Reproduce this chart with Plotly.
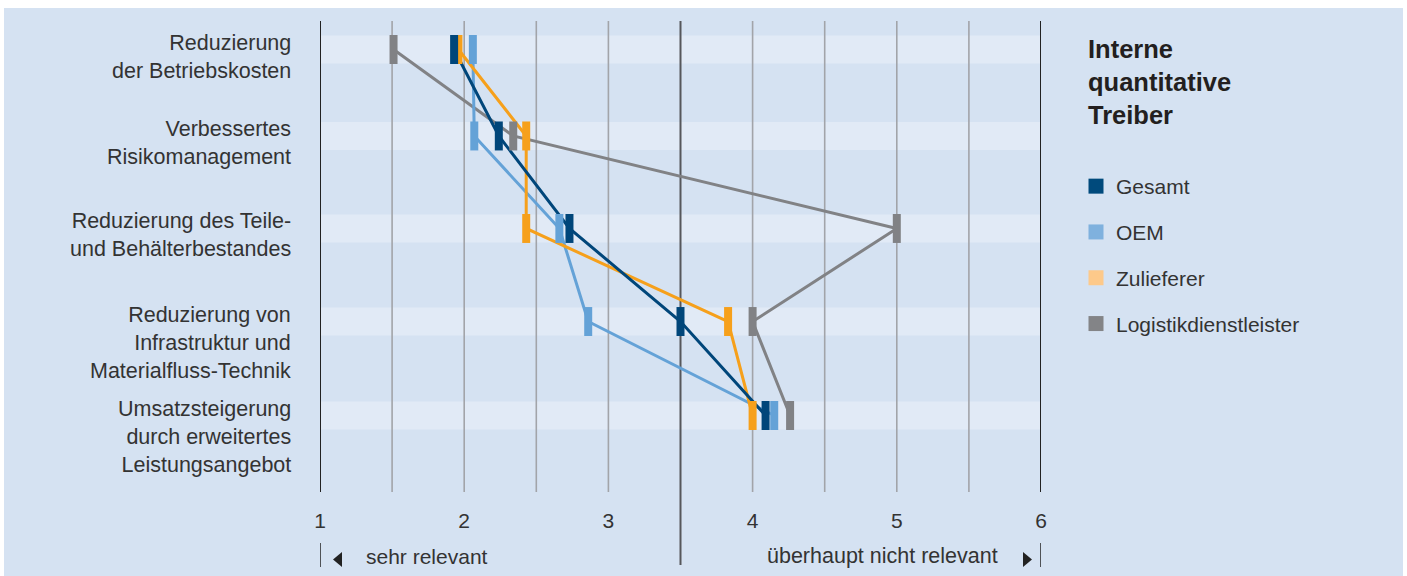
import plotly.graph_objects as go

# ---- data -------------------------------------------------------------
categories = [
    "Reduzierung<br>der Betriebskosten",
    "Verbessertes<br>Risikomanagement",
    "Reduzierung des Teile-<br>und Behälterbestandes",
    "Reduzierung von<br>Infrastruktur und<br>Materialfluss-Technik",
    "Umsatzsteigerung<br>durch erweitertes<br>Leistungsangebot",
]
gesamt = [1.93, 2.24, 2.73, 3.50, 4.09]
oem = [2.06, 2.07, 2.66, 2.86, 4.15]
zulieferer = [1.96, 2.43, 2.43, 3.83, 4.00]
logistik = [1.51, 2.34, 5.00, 4.00, 4.26]

tick_values = [1, 2, 3, 4, 5, 6]
tick_labels = ["1", "2", "3", "4", "5", "6"]

series = [
    # name, values, mark colour, legend colour
    ("Logistikdienstleister", logistik, "#818285", "#838487"),
    ("Zulieferer", zulieferer, "#f6a01b", "#fdc98a"),
    ("OEM", oem, "#64a2d7", "#7fb1de"),
    ("Gesamt", gesamt, "#00467a", "#004a7c"),
]
legend_order = ["Gesamt", "OEM", "Zulieferer", "Logistikdienstleister"]

# ---- geometry ----------------------------------------------------------
W, H = 1407, 576
PL, PR, PT, PB = 320, 1041, 21, 492          # plot area in pixels
ROW_PX = 91.5                                # pixels per row unit
row_pos = [0, 0.945, 1.956, 2.973, 4.0]      # vertical slot of each row
Y_RANGE = [(PB - 49.5) / ROW_PX, -(49.5 - PT) / ROW_PX]

BG = "#d5e2f2"
BAND = "#e1eaf6"
TXT = "#333333"
FONT = "Liberation Sans"


def yp(pix):
    """pixel row -> paper y"""
    return (PB - pix) / (PB - PT)


def xp(pix):
    """pixel column -> paper x"""
    return (pix - PL) / (PR - PL)


def xd(pix):
    """pixel column -> x data value"""
    return 1 + (pix - PL) * 5 / (PR - PL)


fig = go.Figure()

# connecting lines (under all marks)
for name, vals, col, _ in [series[0], series[2], series[1], series[3]]:
    fig.add_trace(go.Scatter(
        x=vals, y=row_pos, mode="lines",
        line=dict(color=col, width=3), showlegend=False, hoverinfo="skip",
    ))

# bar-shaped marks
for name, vals, col, _ in series:
    fig.add_trace(go.Scatter(
        x=vals, y=row_pos, mode="markers", name=name, showlegend=False,
        text=[c.replace("<br>", " ") for c in categories],
        hovertemplate="%{text}: %{x}<extra>" + name + "</extra>",
        marker=dict(symbol="line-ns", size=20.7,
                    line=dict(color=col, width=8)),
    ))

# legend entries (square swatches)
legend_col = {s[0]: s[3] for s in series}
for i, name in enumerate(legend_order):
    fig.add_trace(go.Scatter(
        x=[None], y=[None], mode="markers", name=name,
        legendgroup=f"g{i}",
        marker=dict(symbol="square", size=15, color=legend_col[name]),
    ))

shapes = []
# full background with thin white frame
shapes.append(dict(type="rect", xref="paper", yref="paper", layer="below",
                   x0=xp(4), x1=xp(1403), y0=yp(576), y1=yp(8),
                   fillcolor=BG, line=dict(width=0)))
# lighter row bands
half = 14 / ROW_PX
for p in row_pos:
    shapes.append(dict(type="rect", xref="x", yref="y", layer="below",
                       x0=1, x1=6, y0=p - half, y1=p + half,
                       fillcolor=BAND, line=dict(width=0)))
# half-step grid lines
for g in [1.5, 2, 2.5, 3, 4, 4.5, 5, 5.5]:
    shapes.append(dict(type="line", xref="x", yref="y", layer="below",
                       x0=g, x1=g, y0=Y_RANGE[0], y1=Y_RANGE[1],
                       line=dict(color="#a2a4a9", width=1.6)))
# middle divider reaching into the footer
shapes.append(dict(type="line", xref="x", yref="y", layer="below",
                   x0=3.5, x1=3.5, y0=Y_RANGE[0], y1=Y_RANGE[1],
                   line=dict(color="#56575b", width=2)))
shapes.append(dict(type="line", xref="x", yref="paper",
                   x0=3.5, x1=3.5, y0=yp(565), y1=0,
                   line=dict(color="#56575b", width=2)))
# scale ends
for g in [1, 6]:
    shapes.append(dict(type="line", xref="x", yref="y", layer="below",
                       x0=g, x1=g, y0=Y_RANGE[0], y1=Y_RANGE[1],
                       line=dict(color="#222222", width=2)))
    shapes.append(dict(type="line", xref="x", yref="paper",
                       x0=g, x1=g, y0=yp(567), y1=yp(543),
                       line=dict(color="#222222", width=1.5)))
# direction arrows
shapes.append(dict(type="path", xref="x", yref="paper",
                   path=f"M{xd(333)},{yp(559.5)} L{xd(342)},{yp(552)} L{xd(342)},{yp(567)} Z",
                   fillcolor="#222222", line=dict(width=0)))
shapes.append(dict(type="path", xref="x", yref="paper",
                   path=f"M{xd(1032)},{yp(559.5)} L{xd(1023)},{yp(552)} L{xd(1023)},{yp(567)} Z",
                   fillcolor="#222222", line=dict(width=0)))

annotations = []
# row labels
for cat, p in zip(categories, row_pos):
    annotations.append(dict(
        x=1, y=p, xref="x", yref="y", xanchor="right", yanchor="top",
        xshift=-27, yshift=21, text=cat, showarrow=False, align="right",
        font=dict(family=FONT, size=21.5, color=TXT),
    ))
# footer captions
annotations.append(dict(
    x=xd(364), y=yp(556), xref="x", yref="paper", xanchor="left",
    yanchor="middle", text="sehr relevant", showarrow=False,
    font=dict(family=FONT, size=21, color=TXT),
))
annotations.append(dict(
    x=xd(1000), y=yp(556), xref="x", yref="paper", xanchor="right",
    yanchor="middle", text="überhaupt nicht relevant", showarrow=False,
    font=dict(family=FONT, size=21.5, color=TXT),
))
# legend heading
annotations.append(dict(
    x=xp(1086), y=yp(33), xref="paper", yref="paper", xanchor="left",
    yanchor="top", text="<b>Interne<br>quantitative<br>Treiber</b>",
    showarrow=False, align="left",
    font=dict(family=FONT, size=25.5, color="#231f20"),
))

fig.update_layout(
    width=W, height=H,
    margin=dict(l=PL, r=W - PR, t=PT, b=H - PB, autoexpand=False),
    paper_bgcolor="white", plot_bgcolor=BG,
    font=dict(family=FONT, size=21, color=TXT),
    shapes=shapes, annotations=annotations,
    xaxis=dict(range=[1, 6], tickvals=tick_values, ticktext=tick_labels,
               showgrid=False, zeroline=False, showline=False, ticks="",
               ticklabelstandoff=14,
               tickfont=dict(family=FONT, size=21, color=TXT)),
    yaxis=dict(range=Y_RANGE, showticklabels=False, showgrid=False,
               zeroline=False, showline=False, ticks=""),
    legend=dict(x=xp(1076), y=yp(166), xanchor="left", yanchor="top",
                bgcolor="rgba(0,0,0,0)", tracegroupgap=15.5,
                font=dict(family=FONT, size=21, color=TXT),
                itemclick=False, itemdoubleclick=False),
    showlegend=True,
)

fig.write_html("out.html")
